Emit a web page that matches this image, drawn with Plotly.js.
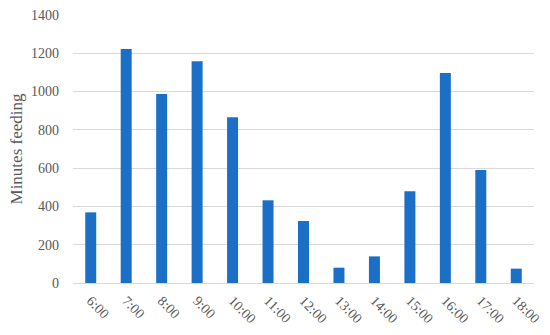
<!DOCTYPE html>
<html><head><meta charset="utf-8">
<script src="https://cdn.plot.ly/plotly-3.0.1.min.js"></script>
<style>html,body{margin:0;padding:0;background:#fff}#chart{width:550px;height:335px}</style>
</head><body><div id="chart"></div>
<script>
const hours = ["6:00","7:00","8:00","9:00","10:00","11:00","12:00","13:00","14:00","15:00","16:00","17:00","18:00"];
const minutesFeeding = [369,1222,987,1158,866,432,324,80,139,479,1097,590,75];
const yTicks = [0,200,400,600,800,1000,1200,1400];

const fontFam = '"Liberation Serif","DejaVu Serif",serif';
Plotly.newPlot('chart', [{
  type: 'bar', x: hours, y: minutesFeeding,
  marker: {color: '#1c6fc6'}, hoverinfo: 'x+y'
}], {
  width: 550, height: 335,
  margin: {l: 73, r: 16, t: 15, b: 52},
  bargap: 0.69,
  paper_bgcolor: '#fff', plot_bgcolor: '#fff',
  font: {family: fontFam, color: '#595959', size: 14},
  xaxis: {type: 'category', tickangle: 45, showgrid: false, showline: true, linecolor: '#d9d9d9', ticks: '', ticklabelstandoff: 3, tickfont: {size: 14, color: '#595959'}},
  yaxis: {range: [0, 1400], tickvals: yTicks, showgrid: true, gridcolor: '#d9d9d9', zeroline: false, ticks: '', ticklabelstandoff: 13,
          tickfont: {size: 14, color: '#595959'},
          title: {text: 'Minutes feeding', font: {size: 17, color: '#595959'}, standoff: 4}},
  showlegend: false
}, {displayModeBar: false, staticPlot: true});
</script></body></html>
